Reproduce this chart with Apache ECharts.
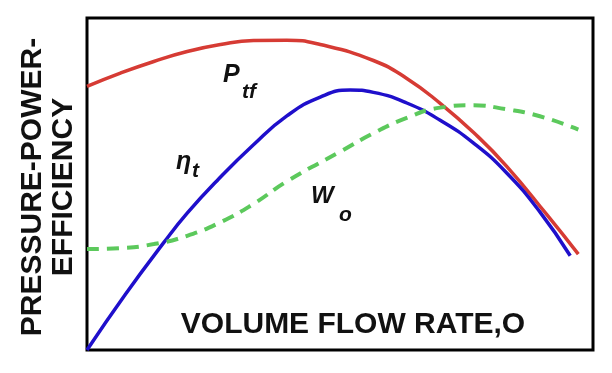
<!DOCTYPE html>
<html>
<head>
<meta charset="utf-8">
<script src="https://cdn.jsdelivr.net/npm/echarts@6/dist/echarts.min.js"></script>
<style>html,body{margin:0;padding:0;background:#fff;}#c{width:612px;height:373px;}</style>
</head>
<body>
<div id="c"></div>
<script>
// Volume flow rate (x, 0-100) and curve values (0-100)
const ptfX = [0, 6.6, 13.2, 19.8, 26.4, 32.9, 39.5, 46.1, 56.6, 63.2, 69.8, 76.4, 82.9, 90.8, 97.1];
const ptfY = [79.4, 83.4, 86.9, 89.9, 92.0, 93.2, 93.3, 92.0, 87.2, 81.8, 74.3, 65.5, 55.4, 40.9, 28.9];
const etaX = [0, 7.6, 15.2, 19.8, 25.7, 32.9, 39.5, 46.1, 52, 56.6, 63.2, 69.8, 76.4, 82.9, 89.5, 95.5];
const etaY = [0, 16.8, 32.4, 41.2, 51.0, 61.8, 70.5, 76.2, 78.3, 77.6, 74.4, 69.2, 62.3, 53.4, 41.6, 28.4];
const woX = [0, 6.6, 13.2, 19.8, 26.4, 32.9, 39.5, 50, 56.6, 63.2, 69.8, 76.4, 82.9, 89.5, 97.1];
const woY = [30.4, 30.7, 31.9, 34.4, 38.5, 44.0, 50.8, 59.7, 65.3, 69.9, 73.0, 73.7, 72.5, 70.4, 66.4];
const yTitle = 'PRESSURE-POWER-\nEFFICIENCY';
const xTitle = 'VOLUME FLOW RATE,O';

const pair = (xs, ys) => xs.map((x, i) => [x, ys[i]]);
const chart = echarts.init(document.getElementById('c'), null, {renderer: 'canvas'});
const F = '"Liberation Sans", Arial, sans-serif';
chart.setOption({
  animation: false,
  backgroundColor: '#fff',
  grid: {left: 87, top: 18, right: 19, bottom: 23, show: true, borderColor: '#000', borderWidth: 3, backgroundColor: 'transparent'},
  xAxis: {type: 'value', min: 0, max: 100, axisLine: {show: false}, axisTick: {show: false}, axisLabel: {show: false}, splitLine: {show: false}},
  yAxis: {type: 'value', min: 0, max: 100, axisLine: {show: false}, axisTick: {show: false}, axisLabel: {show: false}, splitLine: {show: false}},
  series: [
    {type: 'line', data: pair(ptfX, ptfY), smooth: 0.5, showSymbol: false, lineStyle: {color: '#d63b34', width: 3.5}},
    {type: 'line', data: pair(etaX, etaY), smooth: 0.5, showSymbol: false, lineStyle: {color: '#1f0fcb', width: 3.5}},
    {type: 'line', data: pair(woX, woY), smooth: 0.5, showSymbol: false, lineStyle: {color: '#5cc95c', width: 4, type: [12, 8]}}
  ],
  graphic: [
    {type: 'text', x: 48, y: 187, rotation: Math.PI / 2, style: {text: yTitle, font: 'bold 30px ' + F, fill: '#111', textAlign: 'center', textVerticalAlign: 'middle', lineHeight: 31}},
    {type: 'text', x: 353, y: 325, style: {text: xTitle, font: 'bold 30px ' + F, fill: '#111', textAlign: 'center', textVerticalAlign: 'middle'}},
    {type: 'text', x: 223, y: 75, style: {text: 'P', font: 'italic bold 25px ' + F, fill: '#111', textAlign: 'left', textVerticalAlign: 'middle'}},
    {type: 'text', x: 242, y: 92, style: {text: 'tf', font: 'italic bold 21px ' + F, fill: '#111', textAlign: 'left', textVerticalAlign: 'middle'}},
    {type: 'text', x: 176, y: 162, style: {text: 'η', font: 'italic bold 25px ' + F, fill: '#111', textAlign: 'left', textVerticalAlign: 'middle'}},
    {type: 'text', x: 192, y: 171, style: {text: 't', font: 'italic bold 21px ' + F, fill: '#111', textAlign: 'left', textVerticalAlign: 'middle'}},
    {type: 'text', x: 311, y: 196, style: {text: 'W', font: 'italic bold 24px ' + F, fill: '#111', textAlign: 'left', textVerticalAlign: 'middle'}},
    {type: 'text', x: 339, y: 215, style: {text: 'o', font: 'italic bold 21px ' + F, fill: '#111', textAlign: 'left', textVerticalAlign: 'middle'}}
  ]
});
</script>
</body>
</html>
